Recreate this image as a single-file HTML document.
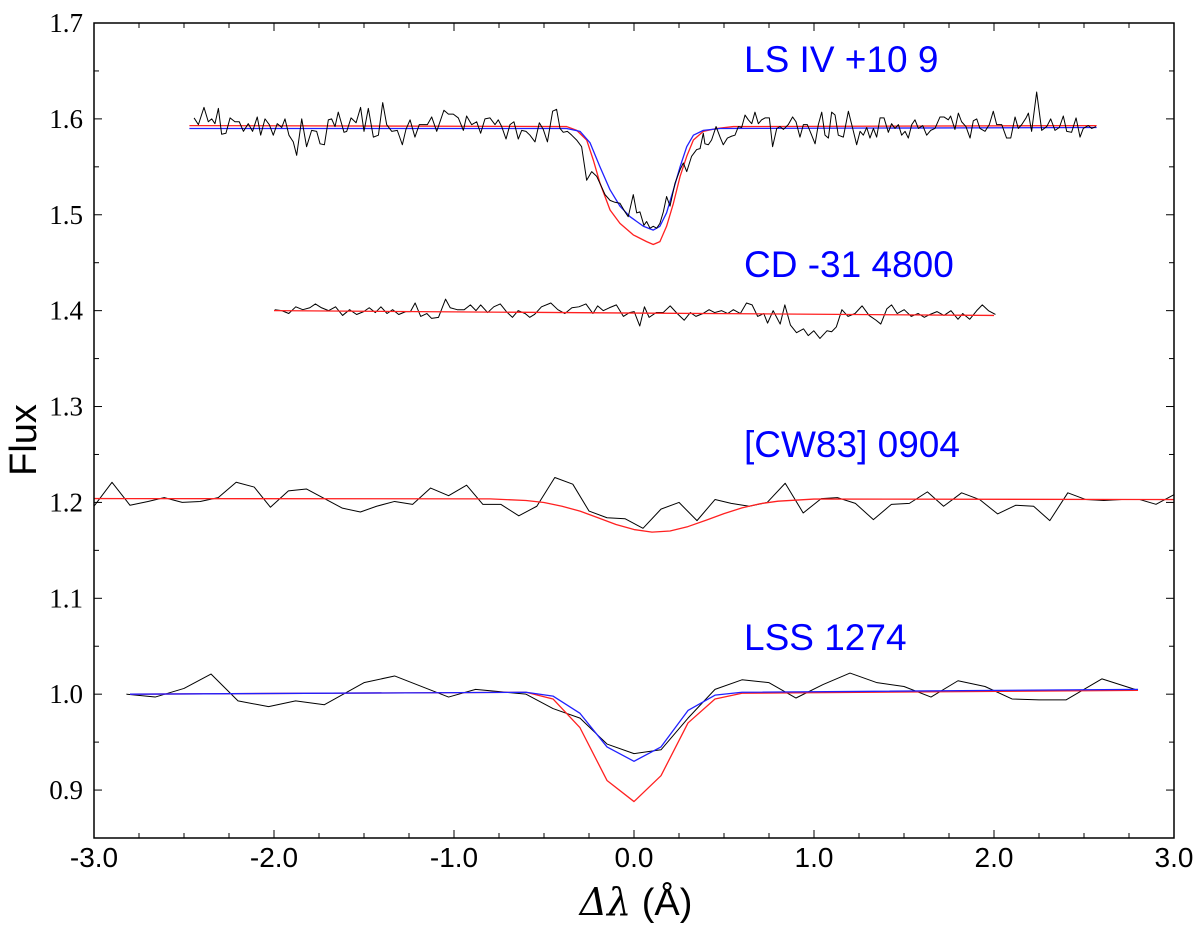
<!DOCTYPE html>
<html><head><meta charset="utf-8"><style>
html,body{margin:0;padding:0;background:#fff;}
svg{display:block;}
</style></head><body>
<svg id="chart" width="1200" height="932" viewBox="0 0 1200 932" xmlns="http://www.w3.org/2000/svg">
<defs><clipPath id="clip"><rect x="94" y="23" width="1080" height="815"/></clipPath></defs>
<rect x="0" y="0" width="1200" height="932" fill="#fff"/>
<g id="axes"></g>
<g id="series" clip-path="url(#clip)"></g>
<rect x="94" y="23" width="1080" height="815" fill="none" stroke="#000" stroke-width="1.5"/>
<g id="labels" font-family="'Liberation Sans', sans-serif" font-size="37" fill="#0000ff">
<text x="744" y="72">LS IV +10 9</text>
<text x="744" y="277">CD -31 4800</text>
<text x="744" y="457">[CW83] 0904</text>
<text x="744" y="650">LSS 1274</text>
</g>
<text x="636" y="915" text-anchor="middle" font-size="38"><tspan font-family="'DejaVu Serif', serif" font-style="italic">Δλ</tspan><tspan font-family="'Liberation Sans', sans-serif"> (Å)</tspan></text>
<text transform="translate(36,440) rotate(-90)" text-anchor="middle" font-family="'Liberation Sans', sans-serif" font-size="38">Flux</text>
</svg>
<script>
// ---- data ----
const xTicks = [-3.0, -2.0, -1.0, 0.0, 1.0, 2.0, 3.0];
const xTickLabels = ["-3.0", "-2.0", "-1.0", "0.0", "1.0", "2.0", "3.0"];
const yTicks = [0.9, 1.0, 1.1, 1.2, 1.3, 1.4, 1.5, 1.6, 1.7];
const yTickLabels = ["0.9", "1.0", "1.1", "1.2", "1.3", "1.4", "1.5", "1.6", "1.7"];

const lsivX = [-2.444,-2.420,-2.389,-2.365,-2.346,-2.328,-2.309,-2.291,-2.267,-2.244,-2.217,-2.193,-2.170,-2.143,-2.119,-2.093,-2.074,-2.050,-2.026,-2.004,-1.982,-1.957,-1.939,-1.917,-1.893,-1.874,-1.846,-1.819,-1.791,-1.763,-1.744,-1.720,-1.698,-1.680,-1.661,-1.643,-1.611,-1.596,-1.572,-1.544,-1.519,-1.500,-1.476,-1.448,-1.420,-1.396,-1.374,-1.346,-1.315,-1.287,-1.267,-1.244,-1.217,-1.193,-1.170,-1.148,-1.124,-1.096,-1.056,-1.031,-1.004,-0.976,-0.948,-0.930,-0.902,-0.874,-0.852,-0.828,-0.800,-0.772,-0.754,-0.735,-0.711,-0.689,-0.667,-0.643,-0.624,-0.600,-0.578,-0.550,-0.526,-0.504,-0.481,-0.452,-0.430,-0.411,-0.393,-0.370,-0.346,-0.319,
-0.291,-0.263,-0.235,-0.207,-0.180,-0.161,-0.133,-0.106,-0.078,-0.050,-0.032,-0.004,0.015,0.033,0.055,0.070,0.089,0.107,0.126,0.144,0.163,0.181,0.200,0.228,0.256,0.274,0.293,0.320,0.348,0.367,0.385,
0.394,0.413,0.431,0.456,0.478,0.496,0.519,0.543,0.561,0.580,0.598,0.617,0.635,0.654,0.672,0.691,0.709,0.728,0.752,0.770,0.793,0.811,0.830,0.857,0.881,0.900,0.922,0.941,0.963,0.987,1.006,1.024,1.043,1.061,1.080,1.098,1.117,1.135,1.163,1.191,1.219,1.237,1.256,1.274,1.293,1.311,1.330,1.348,1.367,1.389,1.413,1.431,1.450,1.469,1.487,1.506,1.524,1.543,1.561,1.580,1.604,1.626,1.648,1.672,1.700,1.722,1.746,1.759,1.783,1.802,1.820,1.844,1.867,1.885,1.904,1.922,1.950,1.974,1.996,2.015,2.043,2.070,2.093,2.117,2.135,2.154,2.178,2.191,2.209,2.237,2.265,2.293,2.315,2.339,2.363,2.385,2.404,2.431,2.456,2.478,2.496,2.524,2.543,2.567];
const lsivFlux = [1.601,1.594,1.612,1.597,1.600,1.595,1.611,1.584,1.585,1.601,1.597,1.597,1.587,1.595,1.587,1.602,1.583,1.600,1.594,1.583,1.595,1.591,1.600,1.583,1.576,1.562,1.600,1.571,1.588,1.587,1.574,1.573,1.599,1.600,1.592,1.607,1.586,1.587,1.601,1.596,1.612,1.587,1.611,1.581,1.583,1.617,1.594,1.587,1.588,1.573,1.589,1.599,1.581,1.594,1.594,1.594,1.602,1.587,1.609,1.605,1.605,1.601,1.588,1.603,1.594,1.597,1.585,1.600,1.601,1.594,1.599,1.592,1.579,1.594,1.597,1.579,1.588,1.587,1.583,1.576,1.596,1.589,1.576,1.608,1.610,1.590,1.586,1.587,1.583,1.578,
1.571,1.536,1.545,1.540,1.529,1.521,1.515,1.513,1.512,1.503,1.498,1.521,1.502,1.503,1.489,1.493,1.486,1.488,1.486,1.491,1.503,1.519,1.509,1.533,1.547,1.554,1.545,1.561,1.568,1.569,1.585,
1.574,1.573,1.578,1.592,1.581,1.573,1.580,1.582,1.583,1.592,1.591,1.604,1.599,1.595,1.607,1.595,1.599,1.601,1.601,1.571,1.590,1.592,1.589,1.594,1.602,1.597,1.581,1.594,1.594,1.583,1.574,1.594,1.607,1.583,1.580,1.607,1.604,1.583,1.581,1.608,1.587,1.573,1.587,1.583,1.591,1.580,1.590,1.581,1.601,1.601,1.586,1.595,1.590,1.594,1.583,1.587,1.580,1.594,1.599,1.590,1.593,1.583,1.588,1.590,1.602,1.602,1.599,1.603,1.589,1.606,1.597,1.592,1.580,1.598,1.600,1.590,1.587,1.594,1.608,1.594,1.594,1.580,1.580,1.602,1.590,1.594,1.601,1.606,1.587,1.628,1.588,1.592,1.600,1.588,1.591,1.603,1.587,1.586,1.601,1.581,1.590,1.593,1.590,1.592];

const lsivRedX = [-2.47,-0.374,-0.318,-0.263,-0.226,-0.189,-0.133,-0.078,-0.004,0.070,0.107,0.144,0.181,0.219,0.256,0.293,0.330,0.385,0.459,0.552,2.57];
const lsivRedFlux = [1.593,1.592,1.588,1.578,1.557,1.533,1.505,1.491,1.479,1.472,1.469,1.472,1.488,1.512,1.540,1.561,1.578,1.587,1.590,1.592,1.593];
const lsivBlueX = [-2.47,-0.374,-0.300,-0.244,-0.189,-0.133,-0.078,-0.022,0.052,0.107,0.144,0.181,0.219,0.256,0.293,0.330,0.385,0.478,2.57];
const lsivBlueFlux = [1.590,1.590,1.587,1.575,1.550,1.526,1.509,1.498,1.488,1.484,1.488,1.502,1.526,1.550,1.571,1.583,1.588,1.590,1.591];

const cdX = [-1.996,-1.957,-1.918,-1.879,-1.840,-1.801,-1.770,-1.736,-1.697,-1.658,-1.619,-1.580,-1.541,-1.502,-1.471,-1.437,-1.406,-1.372,-1.341,-1.307,-1.268,-1.242,-1.216,-1.185,-1.151,-1.125,-1.086,-1.047,-1.021,-0.982,-0.943,-0.909,-0.878,-0.852,-0.813,-0.779,-0.743,-0.709,-0.675,-0.644,-0.605,-0.579,-0.553,-0.514,-0.462,-0.423,-0.384,-0.345,-0.306,-0.267,-0.228,-0.202,-0.171,-0.137,-0.098,-0.059,-0.025,0.001,0.032,0.058,0.084,0.123,0.162,0.201,0.240,0.279,0.313,0.344,0.383,0.417,0.448,0.487,0.521,0.552,0.591,0.625,0.656,0.687,0.721,0.742,0.773,0.812,0.838,0.869,0.903,0.942,0.968,0.999,1.033,1.072,1.098,1.124,1.155,1.189,1.228,1.267,1.306,1.345,1.371,1.405,1.431,1.462,1.501,1.540,1.579,1.613,1.644,1.683,1.722,1.761,1.800,1.826,1.865,1.904,1.935,1.969,2.008];
const cdFlux = [1.401,1.400,1.397,1.404,1.401,1.403,1.407,1.403,1.400,1.404,1.395,1.401,1.396,1.399,1.403,1.398,1.404,1.397,1.401,1.396,1.399,1.399,1.408,1.394,1.397,1.392,1.393,1.412,1.403,1.401,1.401,1.406,1.400,1.406,1.398,1.404,1.407,1.399,1.393,1.400,1.397,1.393,1.396,1.404,1.408,1.401,1.397,1.403,1.404,1.407,1.397,1.405,1.400,1.403,1.406,1.394,1.398,1.399,1.384,1.404,1.393,1.398,1.398,1.405,1.397,1.390,1.398,1.394,1.397,1.401,1.398,1.400,1.397,1.401,1.397,1.408,1.406,1.394,1.397,1.387,1.400,1.386,1.406,1.385,1.377,1.381,1.374,1.379,1.371,1.379,1.378,1.383,1.401,1.394,1.397,1.405,1.395,1.390,1.386,1.402,1.406,1.397,1.401,1.394,1.397,1.393,1.396,1.399,1.395,1.400,1.391,1.397,1.391,1.400,1.406,1.400,1.396];
const cdRedX = [-2.00, 2.00];
const cdRedFlux = [1.400, 1.395];

const cwX = [-3.00,-2.90,-2.80,-2.70,-2.61,-2.51,-2.41,-2.31,-2.21,-2.11,-2.02,-1.92,-1.82,-1.72,-1.62,-1.52,-1.43,-1.33,-1.23,-1.13,-1.03,-0.93,-0.84,-0.74,-0.64,-0.54,-0.44,-0.34,-0.25,-0.15,-0.05,0.05,0.15,0.25,0.35,0.45,0.54,0.64,0.74,0.84,0.94,1.04,1.13,1.23,1.33,1.43,1.53,1.63,1.72,1.82,1.92,2.02,2.12,2.22,2.31,2.41,2.51,2.61,2.71,2.81,2.90,3.00];
const cwFlux = [1.196,1.221,1.197,1.201,1.205,1.200,1.201,1.205,1.221,1.216,1.195,1.212,1.214,1.204,1.194,1.190,1.196,1.201,1.198,1.215,1.207,1.218,1.198,1.198,1.186,1.196,1.226,1.219,1.191,1.184,1.183,1.173,1.193,1.200,1.181,1.203,1.199,1.196,1.200,1.220,1.189,1.204,1.205,1.199,1.182,1.198,1.199,1.211,1.196,1.210,1.203,1.188,1.197,1.196,1.181,1.210,1.203,1.202,1.203,1.203,1.198,1.208];
const cwRedX = [-3.0,-0.8,-0.6,-0.5,-0.4,-0.3,-0.2,-0.1,0.0,0.1,0.2,0.3,0.4,0.5,0.6,0.7,0.8,1.0,3.0];
const cwRedFlux = [1.204,1.2037,1.202,1.1999,1.196,1.1909,1.184,1.177,1.1717,1.169,1.1702,1.1748,1.1814,1.1883,1.1943,1.1986,1.2013,1.2035,1.203];

const lssX = [-2.82,-2.66,-2.50,-2.35,-2.20,-2.03,-1.88,-1.72,-1.50,-1.33,-1.03,-0.88,-0.60,-0.45,-0.30,-0.15,0.00,0.15,0.30,0.45,0.60,0.75,0.90,1.05,1.20,1.35,1.50,1.65,1.80,1.95,2.10,2.25,2.40,2.60,2.80];
const lssFlux = [1.000,0.997,1.006,1.021,0.993,0.987,0.993,0.989,1.012,1.019,0.997,1.005,1.000,0.985,0.975,0.948,0.938,0.942,0.975,1.005,1.015,1.012,0.996,1.010,1.022,1.012,1.008,0.997,1.014,1.008,0.995,0.994,0.994,1.016,1.004];
const lssRedX = [-2.80,-0.60,-0.45,-0.30,-0.15,0.00,0.15,0.30,0.45,0.60,2.80];
const lssRedFlux = [1.000,1.002,0.995,0.965,0.910,0.888,0.915,0.970,0.995,1.001,1.004];
const lssBlueX = [-2.80,-0.60,-0.45,-0.30,-0.15,0.00,0.15,0.30,0.45,0.60,2.80];
const lssBlueFlux = [1.000,1.002,0.998,0.980,0.945,0.930,0.945,0.983,0.999,1.002,1.005];

// ---- axis functions ----
const X0 = 94, X1 = 1174, Y_TOP = 23, Y_BOT = 838;
const xMin = -3, xMax = 3, yMin = 0.85, yMax = 1.7;
function sx(v){ return X0 + (v - xMin) / (xMax - xMin) * (X1 - X0); }
function sy(v){ return Y_BOT - (v - yMin) / (yMax - yMin) * (Y_BOT - Y_TOP); }

const NS = "http://www.w3.org/2000/svg";
const axes = document.getElementById('axes');
const series = document.getElementById('series');

function mk(tag, parent){ const e = document.createElementNS(NS, tag); parent.appendChild(e); return e; }

// x ticks (major + minor every 0.25)
for (let i = 0; i <= 24; i++) {
  const v = xMin + i * 0.25;
  const major = (i % 4 === 0);
  const len = major ? 8 : 5;
  const t1 = mk('line', axes);
  
  
  t1.setAttribute('x1', sx(v)); t1.setAttribute('x2', sx(v));
  t1.setAttribute('y1', Y_BOT); t1.setAttribute('y2', Y_BOT - len);
  t1.setAttribute('stroke', '#000'); t1.setAttribute('stroke-width', '1');
  const t2 = mk('line', axes);
  
  
  t2.setAttribute('x1', sx(v)); t2.setAttribute('x2', sx(v));
  t2.setAttribute('y1', Y_TOP); t2.setAttribute('y2', Y_TOP + len);
  t2.setAttribute('stroke', '#000'); t2.setAttribute('stroke-width', '1');
}
xTicks.forEach((v, i) => {
  const t = mk('text', axes);
  
  
  t.setAttribute('x', sx(v)); t.setAttribute('y', 867);
  t.setAttribute('text-anchor', 'middle');
  t.setAttribute('font-family', "'Liberation Sans', sans-serif");
  t.setAttribute('font-size', '28');
  t.textContent = xTickLabels[i];
});
// y ticks (major + minor every 0.05)
for (let i = 0; i <= 17; i++) {
  const v = yMin + i * 0.05;
  const major = (i % 2 === 1);
  const len = major ? 8 : 5;
  const t1 = mk('line', axes);
  
  
  t1.setAttribute('x1', X0); t1.setAttribute('x2', X0 + len);
  t1.setAttribute('y1', sy(v)); t1.setAttribute('y2', sy(v));
  t1.setAttribute('stroke', '#000'); t1.setAttribute('stroke-width', '1');
  const t2 = mk('line', axes);
  
  
  t2.setAttribute('x1', X1); t2.setAttribute('x2', X1 - len);
  t2.setAttribute('y1', sy(v)); t2.setAttribute('y2', sy(v));
  t2.setAttribute('stroke', '#000'); t2.setAttribute('stroke-width', '1');
}
yTicks.forEach((v, i) => {
  const t = mk('text', axes);
  
  
  t.setAttribute('x', 83); t.setAttribute('y', sy(v) + 9);
  t.setAttribute('text-anchor', 'end');
  t.setAttribute('font-family', "'Liberation Serif', serif");
  t.setAttribute('font-size', '27');
  t.textContent = yTickLabels[i];
});

function line(xs, ys, color, w, name) {
  const p = mk('polyline', series);
  
  
  p.setAttribute('points', xs.map((x, i) => sx(x).toFixed(2) + ',' + sy(ys[i]).toFixed(2)).join(' '));
  p.setAttribute('fill', 'none');
  p.setAttribute('stroke', color);
  p.setAttribute('stroke-width', w);
  p.setAttribute('stroke-linejoin', 'round');
}

line(lsivRedX, lsivRedFlux, '#ff2020', 1.3, 'lsiv-model-red');
line(lsivBlueX, lsivBlueFlux, '#2020ff', 1.3, 'lsiv-model-blue');
line(lsivX, lsivFlux, '#000', 1, 'lsiv-observed');
line(cdX, cdFlux, '#000', 1, 'cd-observed');
line(cdRedX, cdRedFlux, '#ff2020', 1.3, 'cd-model-red');
line(cwX, cwFlux, '#000', 1, 'cw83-observed');
line(cwRedX, cwRedFlux, '#ff2020', 1.3, 'cw83-model-red');
line(lssX, lssFlux, '#000', 1, 'lss-observed');
line(lssRedX, lssRedFlux, '#ff2020', 1.3, 'lss-model-red');
line(lssBlueX, lssBlueFlux, '#2020ff', 1.3, 'lss-model-blue');
</script>
</body></html>
